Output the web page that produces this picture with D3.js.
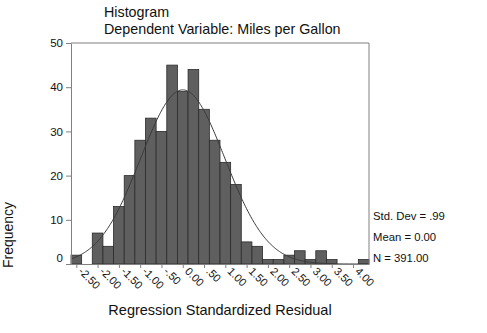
<!DOCTYPE html>
<html>
<head>
<meta charset="utf-8">
<script src="https://cdn.jsdelivr.net/npm/d3@7"></script>
<style>
  html, body { margin: 0; padding: 0; background: #fff; }
  svg { display: block; font-family: "Liberation Sans", Arial, sans-serif; }
</style>
</head>
<body>
<svg id="chart" width="487" height="333"></svg>
<script>
// Bin midpoints of the standardized residuals (bin width 0.25)
const binMid = [-2.50, -2.25, -2.00, -1.75, -1.50, -1.25, -1.00, -0.75, -0.50, -0.25,
                 0.00,  0.25,  0.50,  0.75,  1.00,  1.25,  1.50,  1.75,  2.00,  2.25,
                 2.50,  2.75,  3.00,  3.25,  3.50,  3.75,  4.00,  4.25];
// Frequencies per bin
const counts = [2, 0, 7, 4, 13, 20, 28, 33, 30, 45,
                39, 44, 35, 28, 23, 18, 5, 4, 1, 1,
                2, 3, 1, 3, 1, 0, 0, 1];
const binWidth = 0.25;

// Axis ticks
const xTickValues = [-2.5, -2.0, -1.5, -1.0, -0.5, 0.0, 0.5, 1.0, 1.5, 2.0, 2.5, 3.0, 3.5, 4.0];
const xTickLabels = ["-2.50", "-2.00", "-1.50", "-1.00", "-.50", "0.00", ".50", "1.00",
                     "1.50", "2.00", "2.50", "3.00", "3.50", "4.00"];
const yTickValues = [0, 10, 20, 30, 40, 50];

// Summary statistics
const stdDev = 0.99, mean = 0.00, nCases = 391;
const statLabels = ["Std. Dev = .99", "Mean = 0.00", "N = 391.00"];

const titleLines = ["Histogram", "Dependent Variable: Miles per Gallon"];

const svg = d3.select("#chart");
const plot = { left: 71, right: 369, top: 43, bottom: 264 };

const x = d3.scaleLinear()
  .domain([binMid[0] - binWidth / 2, binMid[binMid.length - 1] + binWidth / 2])
  .range([plot.left, plot.right]);
const y = d3.scaleLinear().domain([0, 50]).range([plot.bottom, plot.top]);

const axisColor = "#808080";
const textColor = "#111";

// Bars
svg.append("g").selectAll("rect")
  .data(binMid.map((m, i) => ({ m, c: counts[i] })).filter(d => d.c > 0))
  .join("rect")
  .attr("x", d => x(d.m - binWidth / 2))
  .attr("width", d => x(d.m + binWidth / 2) - x(d.m - binWidth / 2))
  .attr("y", d => y(d.c))
  .attr("height", d => y(0) - y(d.c))
  .attr("fill", "#5f5f5f")
  .attr("stroke", "#2b2b2b")
  .attr("stroke-width", 0.8);

// Normal curve scaled to counts
const curveXs = d3.range(x.domain()[0], x.domain()[1] + 1e-9, 0.02);
const normal = v => nCases * binWidth * Math.exp(-0.5 * ((v - mean) / stdDev) ** 2) /
                    (stdDev * Math.sqrt(2 * Math.PI));
svg.append("path")
  .datum(curveXs)
  .attr("d", d3.line().x(v => x(v)).y(v => y(normal(v))))
  .attr("fill", "none")
  .attr("stroke", "#3a3a3a")
  .attr("stroke-width", 1);

// Frame: top and right edges
svg.append("path")
  .attr("d", `M${plot.left},${plot.top}H${plot.right}V${plot.bottom}`)
  .attr("fill", "none")
  .attr("stroke", axisColor)
  .attr("stroke-width", 1);

// Y axis
const yAxis = svg.append("g")
  .attr("transform", `translate(${plot.left},0)`)
  .call(d3.axisLeft(y).tickValues(yTickValues).tickSize(5).tickPadding(3).tickSizeOuter(0));
yAxis.select(".domain").attr("stroke", axisColor);
yAxis.selectAll(".tick line").attr("stroke", axisColor);
yAxis.selectAll(".tick text")
  .attr("font-size", 11.5)
  .attr("fill", textColor)
  .attr("font-family", "Liberation Sans, Arial, sans-serif")
  .attr("dy", d => d === 0 ? "-0.2em" : "0.32em");

// X axis
const xAxis = svg.append("g")
  .attr("transform", `translate(0,${plot.bottom})`)
  .call(d3.axisBottom(x).tickValues(xTickValues).tickSize(4).tickSizeOuter(0)
    .tickFormat((d, i) => xTickLabels[i]));
xAxis.select(".domain").attr("stroke", axisColor);
xAxis.selectAll(".tick line").attr("stroke", axisColor);
xAxis.selectAll(".tick text")
  .attr("font-size", 11)
  .attr("fill", textColor)
  .attr("font-family", "Liberation Sans, Arial, sans-serif")
  .attr("text-anchor", "start")
  .attr("y", 0)
  .attr("dy", 0)
  .attr("transform", "translate(1,8) rotate(45)");

// Titles
svg.append("g").selectAll("text")
  .data(titleLines)
  .join("text")
  .attr("x", 104)
  .attr("y", (d, i) => 17 + i * 17)
  .attr("font-size", 14.3)
  .attr("fill", textColor)
  .text(d => d);

// Axis titles
svg.append("text")
  .attr("transform", "translate(13,235) rotate(-90)")
  .attr("text-anchor", "middle")
  .attr("font-size", 14)
  .attr("fill", textColor)
  .text("Frequency");

svg.append("text")
  .attr("x", 220)
  .attr("y", 315)
  .attr("text-anchor", "middle")
  .attr("font-size", 14.5)
  .attr("fill", textColor)
  .text("Regression Standardized Residual");

// Summary statistics beside the plot
svg.append("g").selectAll("text")
  .data(statLabels)
  .join("text")
  .attr("x", 373)
  .attr("y", (d, i) => 220 + i * 21)
  .attr("font-size", 11.3)
  .attr("fill", textColor)
  .text(d => d);
</script>
</body>
</html>
